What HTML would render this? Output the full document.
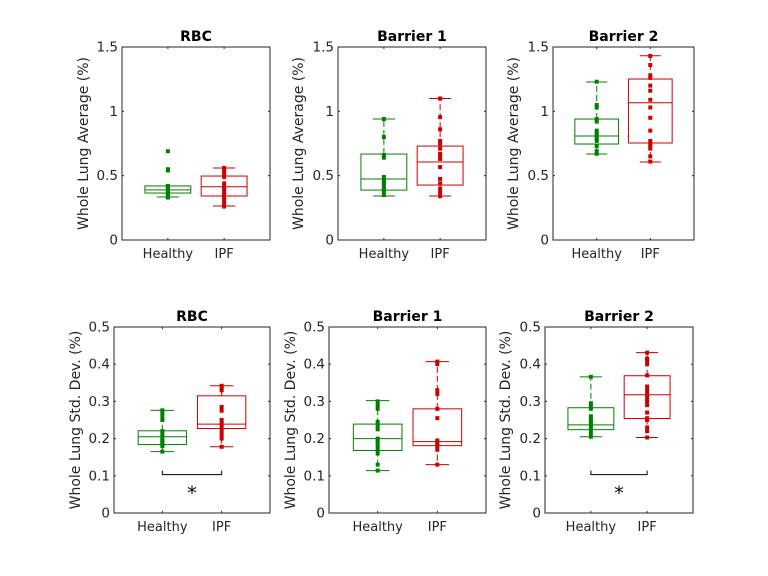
<!DOCTYPE html>
<html><head><meta charset="utf-8"><style>
body{margin:0;background:#fff;}
svg{display:block;font-family:"DejaVu Sans","Liberation Sans",sans-serif;}
</style></head><body>
<svg id="fig" width="768" height="576" viewBox="0 0 768 576" xmlns="http://www.w3.org/2000/svg"></svg>
<script>
const categories=["Healthy","IPF"];
const panelTitles=["RBC","Barrier 1","Barrier 2","RBC","Barrier 1","Barrier 2"];
// stats: [low whisker, q1, median, q3, high whisker]
const rbcAvgHealthy=[0.334,0.365,0.39,0.42,0.42];
const rbcAvgIPF=[0.264,0.342,0.414,0.497,0.56];
const rbcAvgHealthyPts=[0.33,0.35,0.36,0.37,0.38,0.39,0.40,0.41,0.42,0.54,0.55,0.69];
const rbcAvgIPFPts=[0.26,0.28,0.31,0.33,0.35,0.38,0.40,0.42,0.44,0.49,0.51,0.54,0.56];
const b1AvgHealthy=[0.342,0.388,0.474,0.668,0.94];
const b1AvgIPF=[0.342,0.427,0.606,0.73,1.10];
const b1AvgHealthyPts=[0.94,0.80,0.66,0.64,0.49,0.47,0.45,0.43,0.41,0.39,0.37,0.35];
const b1AvgIPFPts=[1.10,0.955,0.86,0.77,0.75,0.71,0.67,0.65,0.63,0.567,0.474,0.44,0.40,0.37,0.34];
const b2AvgHealthy=[0.668,0.746,0.808,0.94,1.228];
const b2AvgIPF=[0.606,0.754,1.067,1.251,1.432];
const b2AvgHealthyPts=[1.23,1.05,1.03,0.94,0.92,0.85,0.83,0.81,0.79,0.77,0.73,0.69,0.67];
const b2AvgIPFPts=[1.43,1.36,1.28,1.26,1.20,1.16,1.09,1.03,0.95,0.85,0.77,0.75,0.73,0.71,0.65,0.61];
const rbcSdHealthy=[0.165,0.184,0.205,0.221,0.276];
const rbcSdIPF=[0.178,0.227,0.239,0.315,0.342];
const rbcSdHealthyPts=[0.276,0.27,0.26,0.25,0.22,0.21,0.20,0.195,0.19,0.185,0.18,0.165];
const rbcSdIPFPts=[0.342,0.335,0.33,0.285,0.275,0.25,0.24,0.23,0.22,0.21,0.20,0.178];
const b1SdHealthy=[0.114,0.168,0.200,0.239,0.302];
const b1SdIPF=[0.130,0.181,0.192,0.280,0.407];
const b1SdHealthyPts=[0.30,0.29,0.28,0.245,0.235,0.225,0.20,0.195,0.19,0.18,0.17,0.16,0.13,0.114];
const b1SdIPFPts=[0.407,0.40,0.33,0.32,0.28,0.255,0.195,0.19,0.185,0.18,0.17,0.13];
const b2SdHealthy=[0.205,0.224,0.237,0.283,0.366];
const b2SdIPF=[0.203,0.254,0.318,0.369,0.431];
const b2SdHealthyPts=[0.366,0.295,0.29,0.28,0.26,0.25,0.245,0.24,0.23,0.225,0.215,0.205];
const b2SdIPFPts=[0.431,0.415,0.41,0.40,0.37,0.34,0.33,0.32,0.31,0.30,0.29,0.27,0.255,0.25,0.23,0.22,0.203];
const topTicks=[0,0.5,1,1.5];
const topTickLabels=["0","0.5","1","1.5"];
const botTicks=[0,0.1,0.2,0.3,0.4,0.5];
const botTickLabels=["0","0.1","0.2","0.3","0.4","0.5"];
const sigLevel=0.103;
const sigPanels=[3,5];

const NS="http://www.w3.org/2000/svg";
const svg=document.getElementById('fig');
function el(tag,attrs,parent){const e=document.createElementNS(NS,tag);for(const k in attrs)e.setAttribute(k,attrs[k]);(parent||svg).appendChild(e);return e;}

const panels=[
 {x0:122,x1:270,y0:47,y1:240,max:1.5,ticks:topTicks,labs:topTickLabels,ylab:"Whole Lung Average (%)",labX:88,h:rbcAvgHealthy,i:rbcAvgIPF,hp:rbcAvgHealthyPts,ip:rbcAvgIPFPts},
 {x0:338,x1:486,y0:47,y1:240,max:1.5,ticks:topTicks,labs:topTickLabels,ylab:"Whole Lung Average (%)",labX:303,h:b1AvgHealthy,i:b1AvgIPF,hp:b1AvgHealthyPts,ip:b1AvgIPFPts},
 {x0:553,x1:694,y0:47,y1:240,max:1.5,ticks:topTicks,labs:topTickLabels,ylab:"Whole Lung Average (%)",labX:518,h:b2AvgHealthy,i:b2AvgIPF,hp:b2AvgHealthyPts,ip:b2AvgIPFPts},
 {x0:114,x1:270,y0:327,y1:513,max:0.5,ticks:botTicks,labs:botTickLabels,ylab:"Whole Lung Std. Dev. (%)",labX:80,h:rbcSdHealthy,i:rbcSdIPF,hp:rbcSdHealthyPts,ip:rbcSdIPFPts},
 {x0:329,x1:486,y0:327,y1:513,max:0.5,ticks:botTicks,labs:botTickLabels,ylab:"Whole Lung Std. Dev. (%)",labX:295,h:b1SdHealthy,i:b1SdIPF,hp:b1SdHealthyPts,ip:b1SdIPFPts},
 {x0:545,x1:693,y0:327,y1:513,max:0.5,ticks:botTicks,labs:botTickLabels,ylab:"Whole Lung Std. Dev. (%)",labX:510,h:b2SdHealthy,i:b2SdIPF,hp:b2SdHealthyPts,ip:b2SdIPFPts}
];
const colors=["#008000","#cc0000"];

panels.forEach((p,pi)=>{
 const g=el('g',{});
 
 
 const W=p.x1-p.x0;
 const yS=v=>p.y1-(v/p.max)*(p.y1-p.y0);
 const xS=c=>p.x0+W*(c===0?0.31:0.69);
 const ax=el('rect',{x:p.x0,y:p.y0,width:W,height:p.y1-p.y0,fill:'#fff',stroke:'#262626','stroke-width':1},g);
 
 
 p.ticks.forEach((t,ti)=>{
  const y=yS(t);
  el('line',{x1:p.x0,x2:p.x0+2,y1:y,y2:y,stroke:'#262626'},g);
  el('line',{x1:p.x1,x2:p.x1-2,y1:y,y2:y,stroke:'#262626'},g);
  const tl=el('text',{x:p.x0-4,y:y+4.5,'text-anchor':'end','font-size':13.5,fill:'#262626'},g);
  tl.textContent=p.labs[ti];
  
  
 });
 categories.forEach((c,ci)=>{
  const x=xS(ci);
  el('line',{x1:x,x2:x,y1:p.y1,y2:p.y1-2,stroke:'#262626'},g);
  el('line',{x1:x,x2:x,y1:p.y0,y2:p.y0+2,stroke:'#262626'},g);
  const xl=el('text',{x:x,y:p.y1+18,'text-anchor':'middle','font-size':13,fill:'#262626'},g);
  xl.textContent=c;
  
  
 });
 const tt=el('text',{x:(p.x0+p.x1)/2,y:p.y0-6,'text-anchor':'middle','font-size':14,'font-weight':'bold',fill:'#000'},g);
 tt.textContent=panelTitles[pi];
 
 
 const yl=el('text',{x:0,y:0,'text-anchor':'middle','font-size':14,fill:'#262626',transform:`translate(${p.labX},${(p.y0+p.y1)/2}) rotate(-90)`},g);
 yl.textContent=p.ylab;
 
 
 [[p.h,p.hp],[p.i,p.ip]].forEach((d,ci)=>{
  const s=d[0],pts=d[1],col=colors[ci],x=xS(ci),hw=W*0.155,cw=W*0.075;
  const bg=el('g',{},g);
  
  
  el('line',{x1:x,x2:x,y1:yS(s[3]),y2:yS(s[4]),stroke:col,'stroke-dasharray':'6,3'},bg);
  el('line',{x1:x,x2:x,y1:yS(s[1]),y2:yS(s[0]),stroke:col,'stroke-dasharray':'6,3'},bg);
  el('line',{x1:x-cw,x2:x+cw,y1:yS(s[4]),y2:yS(s[4]),stroke:col},bg);
  el('line',{x1:x-cw,x2:x+cw,y1:yS(s[0]),y2:yS(s[0]),stroke:col},bg);
  el('rect',{x:x-hw,y:yS(s[3]),width:2*hw,height:yS(s[1])-yS(s[3]),fill:'none',stroke:col},bg);
  el('line',{x1:x-hw,x2:x+hw,y1:yS(s[2]),y2:yS(s[2]),stroke:col},bg);
  pts.forEach(v=>{
   const r=el('rect',{x:x-2,y:yS(v)-2,width:4,height:4,fill:col},bg);
   
   
  });
 });
 if(sigPanels.includes(pi)){
  const yb=yS(sigLevel),xa=xS(0),xb=xS(1);
  const sb=el('path',{d:`M${xa},${yb-4}V${yb}H${xb}V${yb-4}`,fill:'none',stroke:'#000','stroke-width':1},g);
  
  
  const st=el('text',{x:(xa+xb)/2,y:yb+25,'text-anchor':'middle','font-size':19,fill:'#000'},g);
  st.textContent='*';
  
  
 }
});
</script>
</body></html>
